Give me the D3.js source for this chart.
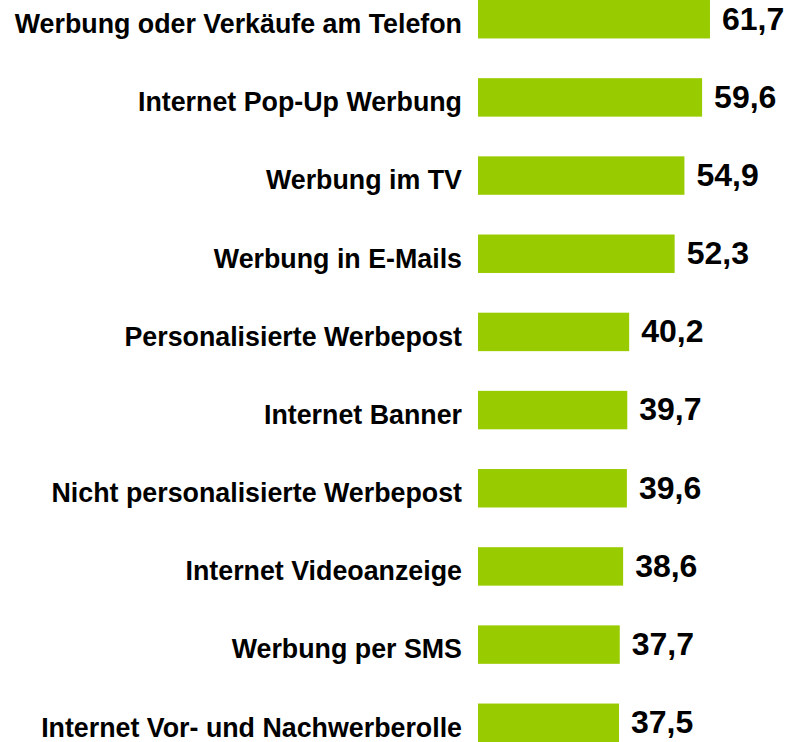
<!DOCTYPE html>
<html>
<head>
<meta charset="utf-8">
<script src="https://cdn.jsdelivr.net/npm/d3@7"></script>
<style>
  body { margin: 0; background: #fff; }
  svg { display: block; font-family: "Liberation Sans", Arial, sans-serif; font-weight: bold; }
</style>
</head>
<body>
<div id="chart"></div>
<script>
// categories and values
const categories = [
    "Werbung oder Verkäufe am Telefon",
    "Internet Pop-Up Werbung",
    "Werbung im TV",
    "Werbung in E-Mails",
    "Personalisierte Werbepost",
    "Internet Banner",
    "Nicht personalisierte Werbepost",
    "Internet Videoanzeige",
    "Werbung per SMS",
    "Internet Vor- und Nachwerberolle"
];
const values = [61.7, 59.6, 54.9, 52.3, 40.2, 39.7, 39.6, 38.6, 37.7, 37.5];
const valueLabels = ["61,7", "59,6", "54,9", "52,3", "40,2", "39,7", "39,6", "38,6", "37,7", "37,5"];

const width = 792, height = 742;

const svg = d3.select('#chart')
    .append('svg')
    .attr('width', width)
    .attr('height', height);

const yScale = d3.scaleBand()
    .domain(categories)
    .range([0, 742])
    .paddingInner(0.508)
    .paddingOuter(0)
    .align(0);

const xScale = d3.scaleLinear()
    .domain([0, 100])
    .range([478, 478 + 376]);

const rows = categories.map((c, i) => ({ cat: c, value: values[i], label: valueLabels[i] }));

// bars
svg.selectAll('rect')
    .data(rows)
    .enter()
    .append('rect')
    .attr('x', xScale(0))
    .attr('y', d => yScale(d.cat))
    .attr('width', d => xScale(d.value) - xScale(0))
    .attr('height', yScale.bandwidth())
    .style('fill', '#99cc00');

// category labels
svg.selectAll('text.cat')
    .data(rows)
    .enter()
    .append('text')
    .attr('class', 'cat')
    .attr('x', xScale(0) - 16)
    .attr('y', d => yScale(d.cat) + 33)
    .attr('text-anchor', 'end')
    .style('font-size', '26.8px')
    .style('fill', '#000')
    .text(d => d.cat);

// value labels
svg.selectAll('text.val')
    .data(rows)
    .enter()
    .append('text')
    .attr('class', 'val')
    .attr('x', d => xScale(d.value) + 12)
    .attr('y', d => yScale(d.cat) + 29.5)
    .style('font-size', '32px')
    .style('fill', '#000')
    .text(d => d.label);
</script>
</body>
</html>
